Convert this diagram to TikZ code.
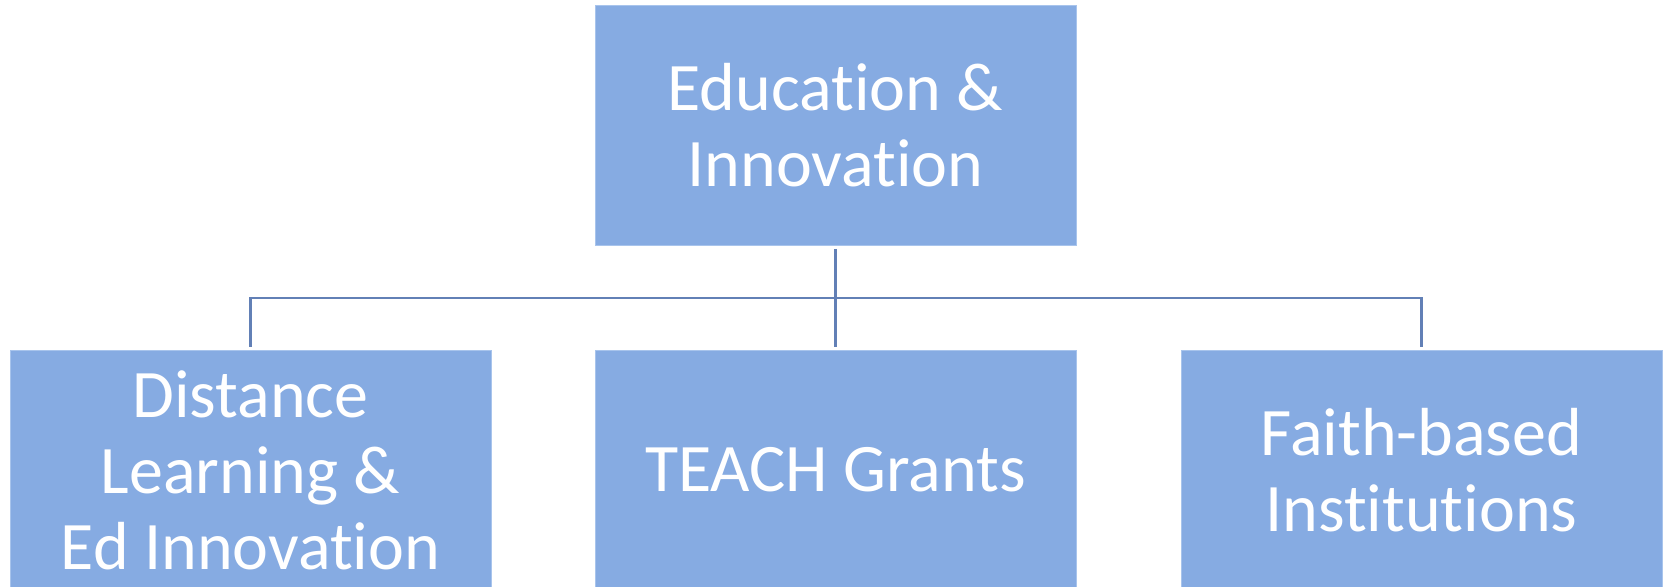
\documentclass[tikz,border=0pt]{standalone}
\usepackage{fontspec}
\setmainfont[Ligatures={NoCommon}]{Carlito}
\usetikzlibrary{calc}
\definecolor{boxfill}{RGB}{134,171,226}
\definecolor{boxedge}{RGB}{168,196,236}
\definecolor{linkcol}{RGB}{98,128,182}

\begin{document}
\begin{tikzpicture}[x=0.5pt,y=-0.5pt,
    orgbox/.style={fill=boxfill,draw=boxedge,line width=0.4pt,minimum width=240.5pt,minimum height=120pt,
      inner sep=0pt,text=white,align=center,font=\fontsize{34pt}{38pt}\selectfont},
    link/.style={linkcol,line width=1.1pt,shorten <=1.5pt,shorten >=1.5pt}]
            \path[use as bounding box] (0,0) rectangle (1665,587);
            \coordinate (bus) at (835.5,298);

            \node[orgbox] (edu) at (835.5,125.5) {Education \&\\Innovation};

            \foreach \name/\x/\txt in {dist/250.5/{Distance\\Learning \&\\Ed Innovation},
                                       teach/835.5/{TEACH Grants},
                                       faith/1421.5/{Faith-based\\Institutions}} {
                \node[orgbox] (\name) at (\x,470) {\txt};
            }

            \draw[link] (edu.south) -- (teach.north);
            \draw[link] (dist.north) |- (bus) -| (faith.north);
        \end{tikzpicture}
\end{document}
